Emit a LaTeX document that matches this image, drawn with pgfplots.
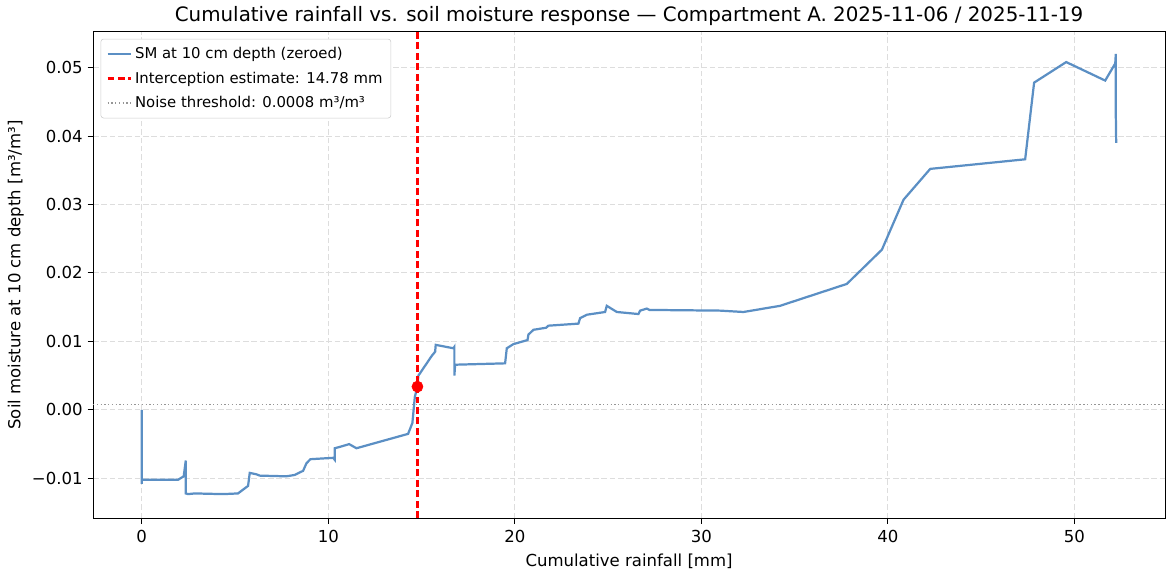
\documentclass[border=0pt]{standalone}
\usepackage{pgfplots}
\pgfplotsset{compat=1.18}
\usepackage{fontspec}
\setmainfont{DejaVu Sans}
\definecolor{smblue}{RGB}{91,143,196}
\definecolor{gridgray}{RGB}{221,221,221}
\definecolor{noisegray}{RGB}{150,150,150}
\definecolor{ired}{RGB}{255,0,0}
\begin{document}
\begin{tikzpicture}
\path[use as bounding box] (-67pt,-36.7pt) rectangle (773.2pt,373pt);
\begin{axis}[
  at={(0,0)}, anchor=south west,
  scale only axis,
  width=771.8pt, height=350pt,
  xmin=-2.61, xmax=54.86,
  ymin=-0.0158, ymax=0.0552,
  xtick={0,10,20,30,40,50},
  ytick={-0.01,0,0.01,0.02,0.03,0.04,0.05},
  yticklabels={−0.01,0.00,0.01,0.02,0.03,0.04,0.05},
  scaled y ticks=false,
  /pgf/number format/assume math mode=true,
  tick label style={font=\fontsize{11.9}{14}\selectfont},
  xticklabel style={yshift=-1.5pt},
  tick align=outside,
  xtick pos=bottom, ytick pos=left,
  major tick length=4pt,
  tick style={black, line width=0.7pt},
  axis line style={line width=0.7pt},
  grid=major,
  grid style={gridgray, dash pattern=on 4pt off 2pt, line width=0.7pt},
  xlabel={Cumulative rainfall [mm]},
  ylabel={Soil moisture at 10 cm depth [m³/m³]},
  label style={font=\fontsize{11.9}{14}\selectfont},
  xlabel style={yshift=-1pt},
  ylabel style={yshift=-1pt},
  title={Cumulative rainfall vs. soil moisture response — Compartment A. 2025-11-06 / 2025-11-19},
  title style={font=\fontsize{14.3}{17}\selectfont, yshift=-5pt},
  legend style={at={(0.007,0.986)}, anchor=north west, font=\fontsize{10.7}{13}\selectfont,
    draw=black!20, rounded corners=2pt, fill=white,
    row sep=4pt, inner sep=4pt},
  legend cell align=left,
]
\addplot[smblue, line width=1.6pt] table {
x y
0.00 0.0000
0.00 -0.0108
0.01 -0.0102
1.95 -0.0102
2.25 -0.0097
2.36 -0.0074
2.36 -0.0122
2.48 -0.0123
2.84 -0.0122
4.36 -0.0123
5.16 -0.0122
5.70 -0.0111
5.79 -0.0092
6.14 -0.0094
6.33 -0.0096
7.75 -0.0097
8.20 -0.0095
8.65 -0.0089
8.83 -0.0078
9.04 -0.0072
10.26 -0.0070
10.35 -0.0073
10.35 -0.0056
10.62 -0.0054
11.12 -0.0050
11.51 -0.0056
14.28 -0.0035
14.51 -0.0019
14.64 0.0019
14.78 0.0034
14.83 0.0050
15.55 0.0079
15.73 0.0085
15.76 0.0095
16.71 0.0090
16.76 0.0092
16.76 0.0050
16.80 0.0066
19.48 0.0068
19.57 0.0090
19.92 0.0096
20.68 0.0102
20.73 0.0110
21.00 0.0117
21.68 0.0120
21.80 0.0123
23.41 0.0126
23.50 0.0134
23.86 0.0139
24.84 0.0143
24.93 0.0152
25.11 0.0149
25.47 0.0143
26.63 0.0140
26.72 0.0145
27.08 0.0148
27.22 0.0146
31.00 0.0145
32.26 0.0143
34.22 0.0152
37.80 0.0184
39.68 0.0234
40.84 0.0307
42.27 0.0352
47.36 0.0366
47.84 0.0478
49.56 0.0508
51.65 0.0481
52.19 0.0506
52.22 0.0520
52.22 0.0430
52.24 0.0390
};
\addlegendentry{SM at 10 cm depth (zeroed)}
\addplot[ired, line width=1.6pt, dash pattern=on 5pt off 2.5pt] coordinates {(14.78,-0.0158) (14.78,0.0552)};
\addlegendentry{Interception estimate: 14.78 mm}
\addplot[noisegray, line width=1.2pt, dash pattern=on 1pt off 1.7pt] coordinates {(-2.61,0.0008) (54.86,0.0008)};
\addlegendentry{Noise threshold: 0.0008 m³/m³}
\addplot[only marks, mark=*, ired, mark size=4pt, forget plot] coordinates {(14.78,0.0034)};
\end{axis}
\end{tikzpicture}
\end{document}
